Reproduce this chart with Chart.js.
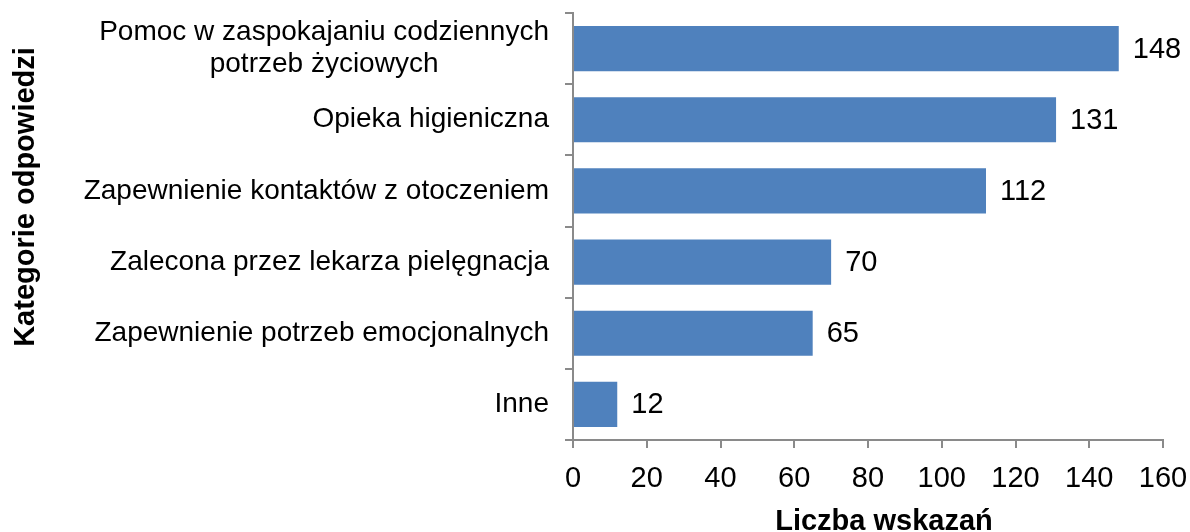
<!DOCTYPE html>
<html>
<head>
<meta charset="utf-8">
<script src="https://cdn.jsdelivr.net/npm/chart.js@4.4.1/dist/chart.umd.min.js"></script>
<style>
  html, body { margin: 0; padding: 0; background: #ffffff; }
  #wrap { width: 1190px; height: 532px; position: relative; }
</style>
</head>
<body>
<div id="wrap"><canvas id="canvas"></canvas></div>
<script>
// Dane
var kategorie = [
    ["Pomoc w zaspokajaniu codziennych", "potrzeb życiowych"],
    ["Opieka higieniczna"],
    ["Zapewnienie kontaktów z otoczeniem"],
    ["Zalecona przez lekarza pielęgnacja"],
    ["Zapewnienie potrzeb emocjonalnych"],
    ["Inne"]
];
var wskazania = [148, 131, 112, 70, 65, 12];
var tytulX = "Liczba wskazań";
var tytulY = "Kategorie odpowiedzi";

var FONT = "'Liberation Sans', Arial, sans-serif";
var AXIS_COLOR = "#8a8a8a";

/**
 * Etykiety kategorii (linie wyśrodkowane, blok przy osi) i tytuły osi
 */
var etykiety = {
    id: 'etykiety',
    afterDraw: function (chart) {
        var ctx = chart.ctx;
        var y = chart.scales.y;
        var area = chart.chartArea;
        ctx.save();
        ctx.font = "28px " + FONT;
        ctx.fillStyle = "#000000";
        ctx.textAlign = "center";
        ctx.textBaseline = "middle";
        var lineH = 32;
        var right = y.right - 24;
        kategorie.forEach(function (lines, i) {
            var py = y.getPixelForTick(i);
            var maxW = 0;
            lines.forEach(function (l) { maxW = Math.max(maxW, ctx.measureText(l).width); });
            var cx = right - maxW / 2;
            var start = py - (lines.length - 1) * lineH / 2;
            lines.forEach(function (l, k) { ctx.fillText(l, cx, start + k * lineH); });
        });

        // tytuł osi poziomej
        ctx.font = "bold 29px " + FONT;
        ctx.textBaseline = "alphabetic";
        ctx.fillText(tytulX, (area.left + area.right) / 2 + 16, 530);

        // tytuł osi pionowej
        ctx.translate(34, 197);
        ctx.rotate(-Math.PI / 2);
        ctx.fillText(tytulY, 0, 0);
        ctx.restore();
    }
};

/**
 * Wartości przy końcach słupków
 */
var wartosci = {
    id: 'wartosci',
    afterDatasetsDraw: function (chart) {
        var ctx = chart.ctx;
        var meta = chart.getDatasetMeta(0);
        ctx.save();
        ctx.font = "29px " + FONT;
        ctx.fillStyle = "#000000";
        ctx.textAlign = "left";
        ctx.textBaseline = "middle";
        meta.data.forEach(function (bar, i) {
            ctx.fillText(String(wskazania[i]), bar.x + 14, bar.y + 1);
        });
        ctx.restore();
    }
};

var chart = new Chart(document.getElementById("canvas"), {
    type: 'bar',
    data: {
        labels: kategorie,
        datasets: [{
            data: wskazania,
            backgroundColor: "#4f81bd",
            borderWidth: 0,
            barPercentage: 0.634,
            categoryPercentage: 1.0
        }]
    },
    plugins: [etykiety, wartosci],
    options: {
        indexAxis: 'y',
        responsive: true,
        maintainAspectRatio: false,
        animation: false,
        layout: { padding: { top: 13, right: 27, left: 0, bottom: 0 } },
        plugins: {
            legend: { display: false },
            tooltip: { enabled: false }
        },
        scales: {
            x: {
                min: 0,
                max: 160,
                afterFit: function (scale) {
                    scale.height = 92;
                    scale.paddingRight = 0;
                    scale.paddingLeft = 0;
                },
                ticks: {
                    stepSize: 20,
                    color: "#000000",
                    padding: 14,
                    font: { family: FONT, size: 29 }
                },
                grid: {
                    drawOnChartArea: false,
                    drawTicks: true,
                    tickLength: 8,
                    color: AXIS_COLOR,
                    lineWidth: 2
                },
                border: { color: AXIS_COLOR, width: 2 }
            },
            y: {
                afterFit: function (scale) { scale.width = 573; },
                ticks: { display: false },
                grid: {
                    offset: true,
                    drawOnChartArea: false,
                    drawTicks: true,
                    tickLength: 8,
                    color: AXIS_COLOR,
                    lineWidth: 2
                },
                border: { color: AXIS_COLOR, width: 2 }
            }
        }
    }
});
</script>
</body>
</html>
